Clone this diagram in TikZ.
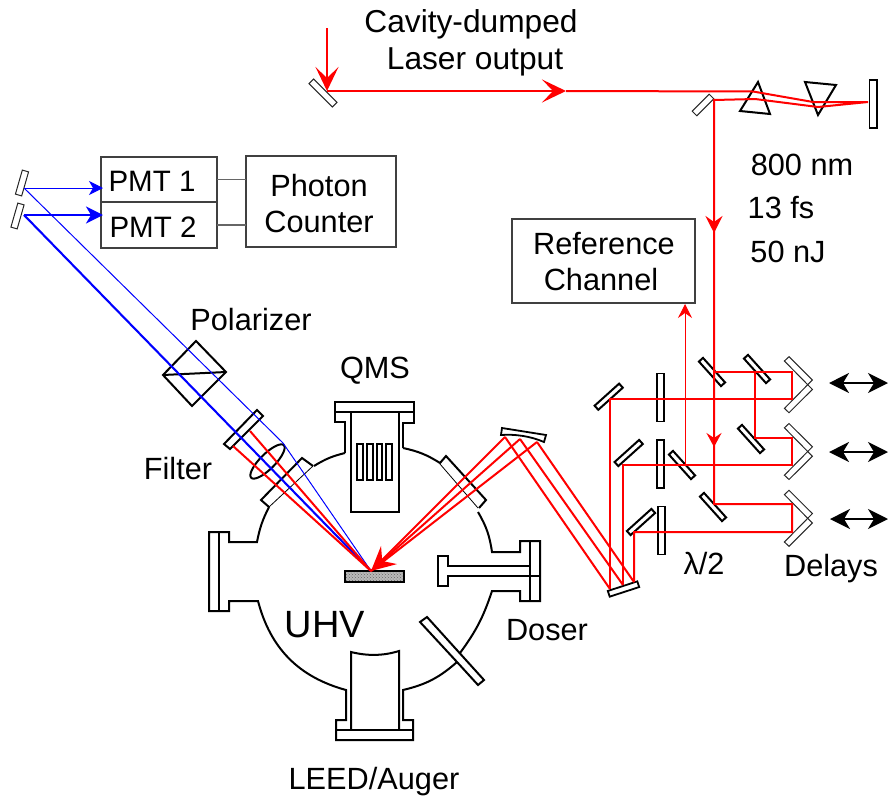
\documentclass[tikz,border=0pt]{standalone}
\usepackage{fontspec}
\setmainfont{Liberation Sans}
\usetikzlibrary{arrows.meta,shapes.geometric,patterns}
\tikzset{
  x=1pt,y=-1pt,
  part/.style={draw=black,line width=2pt,line join=miter},
  thinpart/.style={draw=black,line width=0.8pt},
  optic/.style={draw=black,line width=2pt,rectangle,inner sep=0pt,outer sep=0pt,minimum width=#1,minimum height=5.5pt},
  optic/.default=33pt,
  plate/.style={draw=black,line width=1.8pt,rectangle,inner sep=0pt,outer sep=0pt,minimum width=7.5pt,minimum height=48pt},
  graymirror/.style={draw=black!85,line width=1pt,rectangle,inner sep=0pt,outer sep=0pt,minimum width=#1,minimum height=6.5pt},
  labelbox/.style={draw=black!75,line width=1.3pt,rectangle,inner sep=0pt,outer sep=0pt},
  wire/.style={draw=black!60,line width=1.3pt},
  lbl/.style={inner sep=0pt,font=\fontsize{30.7}{34}\selectfont},
  rbeam/.style={draw=red,line width=2pt,line join=miter},
  rthin/.style={draw=red,line width=1pt},
  bthick/.style={draw=blue,line width=2.1pt},
  bthin/.style={draw=blue,line width=1pt},
  redheadA/.style={-{Stealth[length=17pt,width=17pt,inset=6pt,fill=red]}},
  redheadB/.style={-{Stealth[length=14pt,width=15pt,inset=5pt,fill=red]}},
  redheadC/.style={-{Stealth[length=24pt,width=23pt,inset=11pt,fill=red]}},
  bighead/.style={-{Stealth[length=24pt,width=24pt,inset=9pt,fill=red]}},
  dblarrow/.style={draw=black,line width=1.7pt,{Stealth[length=20pt,width=20pt,inset=6pt]}-{Stealth[length=20pt,width=20pt,inset=6pt]}},
}
\newcommand{\retroref}[1]{%
  \draw[draw=black!85,line width=1pt] (807.7,#1) -- (784.4,#1-23.7) -- (789,#1-28) -- (812.4,#1-4.7) -- (807.7,#1) -- (784.4,#1+23.7) -- (789,#1+28) -- (812.4,#1+4.7) -- (807.7,#1);}
\begin{document}
\begin{tikzpicture}
\useasboundingbox (0,0) rectangle (888,798);

% ---- text boxes
\node[labelbox,minimum width=116pt,minimum height=45pt] (pmta) at (159,179.5) {};
\node[labelbox,minimum width=116pt,minimum height=46pt] (pmtb) at (159,225) {};
\node[labelbox,minimum width=150pt,minimum height=91pt] (photon) at (321,201.5) {};
\node[labelbox,minimum width=183pt,minimum height=84pt] (refch) at (603.5,261) {};
\draw[wire] (pmta.east) -- (pmta.east -| photon.west);
\draw[wire] (pmtb.east) -- (pmtb.east -| photon.west);

% ---- labels
\node[lbl,font=\fontsize{31.7}{34}\selectfont] (t1) at (471,24) {Cavity-dumped};
\node[lbl,font=\fontsize{31.7}{34}\selectfont] (t2) at (475,62) {Laser output};
\node[lbl] (t3) at (802,165) {800 nm};
\node[lbl] (t4) at (781,208) {13 fs};
\node[lbl] (t5) at (788,252) {50 nJ};
\node[lbl] (t6) at (604,244) {Reference};
\node[lbl] (t7) at (601,280) {Channel};
\node[lbl,font=\fontsize{29.5}{34}\selectfont] (t8) at (152,181) {PMT 1};
\node[lbl,font=\fontsize{29.5}{34}\selectfont] (t9) at (153,227) {PMT 2};
\node[lbl] (t10) at (319,186) {Photon};
\node[lbl] (t11) at (319,222) {Counter};
\node[lbl] (t12) at (251,319.5) {Polarizer};
\node[lbl] (t13) at (375,371) {QMS};
\node[lbl] (t14) at (178,469) {Filter};
\node[lbl,font=\fontsize{38}{40}\selectfont] (t15) at (325,625) {UHV};
\node[lbl] (t16) at (547,630) {Doser};
\node[lbl] (t17) at (374,782) {LEED/Auger};
\node[lbl] (t18) at (831,569) {Delays};
\node[lbl] (t19) at (704,564) {λ/2};

% ---- named beam points
\coordinate (inA) at (327,28);
\coordinate (inB) at (327,91);
\coordinate (hz) at (566,91);
\coordinate (pa) at (753,91.5);
\coordinate (pb) at (813,102);
\coordinate (endm) at (868,102);
\coordinate (pc) at (818,107);
\coordinate (pd) at (755,99);
\coordinate (pe) at (714,100);
\coordinate (vA) at (714,233);
\coordinate (vB) at (714,447);
\coordinate (vC) at (714,504);
\coordinate (samp) at (371,571);
\coordinate (cmA) at (505,437);
\coordinate (cmB) at (520,439);
\coordinate (cmC) at (537,442);
\coordinate (lmA) at (610,589);
\coordinate (lmB) at (623,585);
\coordinate (lmC) at (634,582);

% ---- laser-table optics
\node[graymirror=33pt,rotate=-45] (m0) at (323,93) {};
\node[graymirror=24pt,rotate=45] (m1) at (703,105) {};
\draw[part] (758,82) -- (740,111) -- (770,114) -- cycle;
\draw[part] (805,82) -- (836,85) -- (818,115) -- cycle;
\draw[part,line width=1.8pt] (869.5,80) rectangle (877,128);

\node[optic,rotate=42] (l1) at (608.7,396.7) {};
\node[optic,rotate=42] (l2) at (628.7,453) {};
\node[optic,rotate=42] (l3) at (641,522) {};
\node[plate] (w1) at (660.5,397.5) {};
\node[plate] (w2) at (660.5,464) {};
\node[plate] (w3) at (661.5,530.5) {};
\node[optic,rotate=-48] (s1) at (712,372) {};
\node[optic,rotate=-48] (s2) at (757,369) {};
\node[optic,rotate=-48] (s3) at (751,439) {};
\node[optic,rotate=-48] (s4) at (682,465) {};
\node[optic,rotate=-48] (s5) at (713,507) {};
\retroref{384.7}
\retroref{451.5}
\retroref{518.3}
\draw[dblarrow] (829,383) -- (888,383);
\draw[dblarrow] (829,452) -- (888,452);
\draw[dblarrow] (830,519) -- (888,519);

% ---- lower steering mirrors
\node[draw=black,line width=1.8pt,rectangle,inner sep=0pt,minimum width=31pt,minimum height=6pt,rotate=18] (lm) at (623.5,589) {};
\draw[part,line width=1.8pt] (502,428) -- (546,435) -- (544,442) .. controls (530,436) and (515,434) .. (501,435) -- cycle;

% ---- detection optics
\node[graymirror=25pt,rotate=74] (d1) at (22,183) {};
\node[graymirror=25pt,rotate=74] (d2) at (17.5,216) {};
\draw[part] (196,341) -- (226,372) -- (192,406) -- (163,375) -- cycle;
\draw[part] (163,375) -- (226,372);
\draw[part] (257,410) -- (263,416) -- (230,449) -- (224,444) -- cycle;
\draw[part] plot[domain=0:360,samples=60,smooth cycle] ({267.5+23*0.707*cos(\x)+7.5*0.707*sin(\x)},{461.5-23*0.707*cos(\x)+7.5*0.707*sin(\x)});

% ---- chamber
\draw[part] (403,448) to[bend left=10] (440,463) -- (446,456) -- (486,500) -- (479,508);
\draw[thinpart] (440,464) -- (478,508);
\draw[part] (478,512) to[bend left=11] (492,552) -- (520,552) -- (520,541) -- (540,541) -- (540,601) -- (520,601) -- (520,591) -- (492,591) to[bend left=9] (460,653);
\draw[part] (530,541) -- (530,601);
\draw[part] (457,662) to[bend left=14] (403,690) -- (403,720) -- (413,720) -- (413,740) -- (336,740) -- (336,720) -- (346,720) -- (346,690) to[bend left=30] (258,601) -- (229,601) -- (229,611) -- (209,611) -- (209,532) -- (229,532) -- (229,542) -- (257,542) to[bend left=8] (269,507);
\draw[part] (219,532) -- (219,611);
\draw[part] (336,730) -- (413,730);
\draw[part] (351,730) -- (351,652) .. controls (367,656) and (383,656) .. (399,651) -- (399,730);
\draw[thinpart] (269,507) -- (313,466);
\draw[part] (313,466) -- (302,458) -- (261,500) -- (269,507);
\draw[part] (403,448) -- (403,423) -- (414,423) -- (414,402) -- (335,402) -- (335,422) -- (345,422) -- (345,453);
\draw[part] (314,466) to[bend left=9] (345,453);
\draw[part] (335,412) -- (414,412);
\draw[part] (351,412) -- (351,512) -- (399,512) -- (399,412);
\draw[part,line width=1.8pt] (357,444) rectangle (363,480);
\draw[part,line width=1.8pt] (367,444) rectangle (373,480);
\draw[part,line width=1.8pt] (377,444) rectangle (382,480);
\draw[part,line width=1.8pt] (386,444) rectangle (392,480);
% doser
\draw[part] (530,566) -- (448,566) -- (448,556) -- (438,556) -- (438,586) -- (448,586) -- (448,576) -- (540,576);
% rod port
\draw[part] (457,662) -- (420,622) -- (427,617) -- (484,680) -- (478,685) -- (457,662);
% sample
\node[draw=black,line width=1.8pt,rectangle,inner sep=0pt,minimum width=59pt,minimum height=11pt,preaction={fill=gray!55},pattern=crosshatch dots,pattern color=black!60] (sample) at (374.5,576.5) {};

% ---- blue beams
\coordinate (db1) at (24,188);
\coordinate (db2) at (24,215);
\coordinate (bk) at (283,443);
\draw[bthin,-{Stealth[length=14pt,width=14pt,inset=4pt]}] (db1) -- (103,188);
\draw[bthick,-{Stealth[length=17pt,width=17pt,inset=5pt]}] (db2) -- (103,215);
\draw[bthin] (db1) -- (bk) -- (samp);
\draw[bthick] (db2) -- (samp);

% ---- red beams
\draw[rbeam] (250,431) -- (samp);
\draw[rbeam] (233,446) -- (samp);
\draw[rbeam,redheadC] (inA) -- (inB);
\draw[rbeam,redheadC] (inB) -- (hz);
\draw[rbeam] (hz) -- (pa) -- (pb) -- (endm) -- (pc) -- (pd) -- (pe) -- (vC) -- (792,504) -- (792,532) -- (634,532) -- (lmC);
\draw[rbeam,redheadA] (pe) -- (vA);
\draw[rbeam,redheadB] (pe) -- (vB);
\draw[rbeam] (714,372) -- (792,372) -- (792,399) -- (610,399) -- (lmA);
\draw[rbeam] (754.5,372) -- (754.5,438) -- (792,438) -- (792,465) -- (623,465) -- (lmB);
\draw[rthin,-{Stealth[length=14pt,width=14pt,inset=5pt,fill=red]}] (685,465) -- (685,304);
\draw[rbeam] (cmA) -- (lmA);
\draw[rbeam] (cmB) -- (lmB);
\draw[rbeam] (cmC) -- (lmC);
\draw[rbeam] (cmA) -- (samp);
\draw[rbeam] (cmC) -- (samp);
\draw[rbeam,bighead] (cmB) -- (samp);
\end{tikzpicture}
\end{document}
